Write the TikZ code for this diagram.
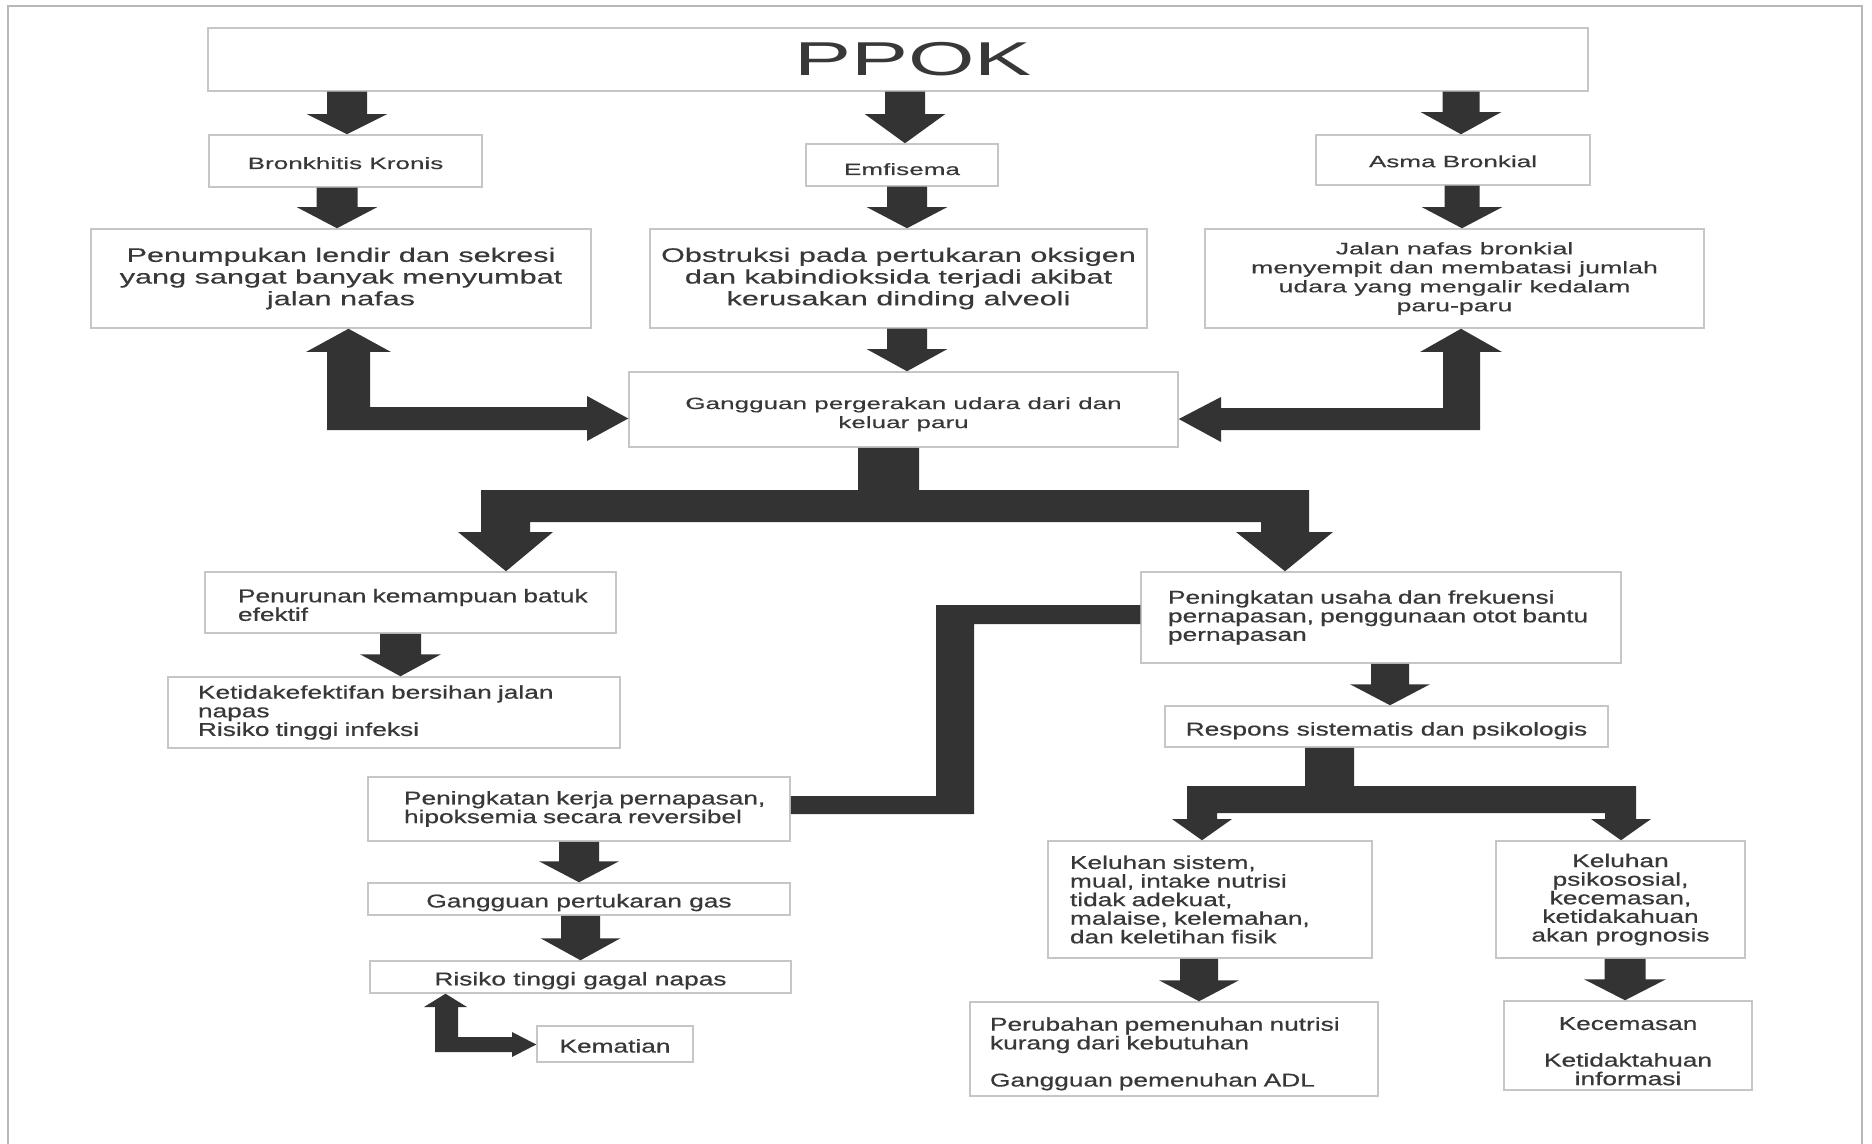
\documentclass[tikz,border=0pt]{standalone}
\usepackage{fontspec}
\setmainfont{Liberation Sans}
\newfontfamily\fA{Liberation Sans}[FakeStretch=1.8]
\newfontfamily\fB{Liberation Sans}[FakeStretch=1.6,FakeBold=0.3]
\newfontfamily\fC{Liberation Sans}[FakeStretch=1.57,FakeBold=0.3]
\newfontfamily\fD{Liberation Sans}[FakeStretch=1.42,FakeBold=0.6]
\usetikzlibrary{calc}
\definecolor{arrc}{HTML}{333333}
\definecolor{txtc}{HTML}{383838}
\definecolor{bordc}{HTML}{C6C6C6}
\definecolor{framec}{HTML}{B8B8B8}
% box with given corners (pixels, y downwards)
\newcommand\bx[7]{\node[box,#6,minimum width={(#4-#2)*0.5pt},minimum height={(#5-#3)*0.5pt}] (#1) at ({(#2+#4)/2},{(#3+#5)/2}) {#7};}
% left-aligned box, #6 = left inset
\newcommand\bxl[7]{\node[box,fd,align=left,text width={(#4-#2-2*#6)*0.5pt},minimum width={(#4-#2)*0.5pt},minimum height={(#5-#3)*0.5pt}] (#1) at ({(#2+#4)/2},{(#3+#5)/2}) {#7};}
% vertical block arrow: from, to, x, shaft half width, head half width, head length
\newcommand\varr[6]{%
  \coordinate (vx) at (#3,0);
  \path (#1.south -| vx) coordinate (va) (#2.north -| vx) coordinate (vb);
  \fill[arr] ($(va)+(-#4,0)$) -- ($(vb)+(-#4,-#6)$) -- ($(vb)+(-#5,-#6)$) -- (vb)
    -- ($(vb)+(#5,-#6)$) -- ($(vb)+(#4,-#6)$) -- ($(va)+(#4,0)$) -- cycle;}
\newcommand\up[1]{\rule{0pt}{#1pt}}
\begin{document}
\begin{tikzpicture}[x=0.5pt,y=-0.5pt,
  box/.style={draw=bordc,line width=0.75pt,fill=white,inner sep=0pt,text=txtc},
  arr/.style={fill=arrc,draw=none},
  fa/.style={font=\fA\fontsize{23.75}{26}\selectfont},
  fb/.style={font=\fB\fontsize{8.15}{9.5}\selectfont},
  fbj/.style={font=\fB\fontsize{8.35}{9.5}\selectfont},
  fc/.style={font=\fC\fontsize{9.75}{10.85}\selectfont},
  fd/.style={font=\fD\fontsize{9.25}{9.3}\selectfont},
  th/.style={text height=#1pt,text depth=0pt}]
\useasboundingbox (0,0) rectangle (1872,1144);
\fill[white] (0,0) rectangle (1872,1144);
\draw[framec,line width=0.7pt] (8,1144) -- (8,6) -- (1862,6) -- (1862,1144);

% boxes
\bx{ppok}{208}{28}{1588}{91}{fa}{\hspace*{15pt}PPOK}
\bx{bronk}{209}{135}{482}{187}{fb,th=8}{Bronkhitis Kronis}
\bx{emf}{806}{144}{998}{186}{fb,th=10}{Emfisema}
\bx{asma}{1316}{135}{1590}{185}{fb,th=7.2}{Asma Bronkial}
\bx{penum}{91}{229}{591}{328}{fc,align=center}{Penumpukan lendir dan sekresi\\yang sangat banyak menyumbat\\jalan nafas}
\bx{obs}{650}{229}{1147}{328}{fc,align=center}{Obstruksi pada pertukaran oksigen\\dan kabindioksida terjadi akibat\\kerusakan dinding alveoli}
\bx{jalan}{1205}{229}{1704}{328}{fbj,align=center}{Jalan nafas bronkial\\menyempit dan membatasi jumlah\\udara yang mengalir kedalam\\paru-paru}
\bx{gang}{629}{372}{1178}{447}{fb,align=center}{\up{10.75}Gangguan pergerakan udara dari dan\\keluar paru}
\bxl{penur}{205}{572}{616}{633}{33}{\up{9.15}\mbox{Penurunan kemampuan batuk}\\efektif}
\bxl{ketid}{168}{677}{620}{748}{30}{\mbox{Ketidakefektifan bersihan jalan}\\napas\\Risiko tinggi infeksi}
\bxl{penus}{1141}{572}{1621}{663}{27}{\mbox{Peningkatan usaha dan frekuensi}\\\mbox{pernapasan, penggunaan otot bantu}\\pernapasan}
\bxl{penker}{368}{777}{790}{841}{36}{\mbox{Peningkatan kerja pernapasan,}\\\mbox{hipoksemia secara reversibel}}
\bx{ganggas}{368}{883}{790}{915}{fd,th=8.4}{Gangguan pertukaran gas}
\bx{risiko}{370}{961}{791}{993}{fd,th=8.4}{Risiko tinggi gagal napas}
\bx{kem}{537}{1026}{693}{1062}{fd,th=8.5}{Kematian}
\bx{resp}{1165}{706}{1608}{747}{fd,th=9}{Respons sistematis dan psikologis}
\bxl{kelsis}{1048}{841}{1372}{958}{22}{Keluhan sistem,\\mual, intake nutrisi\\tidak adekuat,\\malaise, kelemahan,\\dan keletihan fisik}
\bx{kelpsi}{1496}{841}{1745}{958}{fd,align=center}{Keluhan\\psikososial,\\kecemasan,\\ketidakahuan\\akan prognosis}
\bxl{perub}{970}{1002}{1378}{1096}{20}{\up{11.5}\mbox{Perubahan pemenuhan nutrisi}\\kurang dari kebutuhan\\[9.3pt]Gangguan pemenuhan ADL}
\bx{kecem}{1504}{1001}{1752}{1090}{fd,align=center}{\up{12.1}Kecemasan\\[9pt]Ketidaktahuan\\informasi}

% straight block arrows
\varr{ppok}{bronk}{347}{20}{40}{20}
\varr{bronk}{penum}{337}{20.5}{40}{21}
\varr{ppok}{emf}{905}{20}{40}{29}
\varr{emf}{obs}{907}{20}{40}{21}
\varr{obs}{gang}{907}{20}{40}{22}
\varr{ppok}{asma}{1461}{18.5}{40}{22}
\varr{asma}{jalan}{1462}{17.5}{40}{21}
\varr{penur}{ketid}{400.5}{20.5}{40.5}{22}
\varr{penker}{ganggas}{579}{20}{40}{21}
\varr{ganggas}{risiko}{580.5}{19.5}{40}{22}
\varr{penus}{resp}{1390}{19}{40}{21}
\varr{kelsis}{perub}{1199}{19}{40}{21}
\varr{kelpsi}{kecem}{1625}{20.5}{41}{21}

% double arrow Penumpukan <-> Gangguan
\fill[arr] ($(penum.south)+(7.5,0)$) -- (391,352) -- (370,352) -- (370,407) -- (587,407) -- (587,396)
  -- ($(gang.west)+(0,9)$) -- (587,441) -- (587,430) -- (327,430) -- (327,352) -- (306,352) -- cycle;
% double arrow Jalan nafas <-> Gangguan
\fill[arr] ($(jalan.south)+(6.5,0)$) -- (1502,352) -- (1480,352) -- (1480,430) -- (1221,430) -- (1221,442)
  -- ($(gang.east)+(0,9.5)$) -- (1221,397) -- (1221,408) -- (1443,408) -- (1443,352) -- (1420,352) -- cycle;
% split from Gangguan
\fill[arr] ($(gang.south)+(-45.5,0)$) -- ($(gang.south)+(15.5,0)$) -- (919,490) -- (1309,490) -- (1309,532)
  -- (1333,532) -- ($(penus.north)+(-96,0)$) -- (1236,532) -- (1261,532) -- (1261,522) -- (530,522)
  -- (530,532) -- (553,532) -- ($(penur.north)+(95.5,0)$) -- (458,532) -- (481,532) -- (481,490)
  -- (858,490) -- cycle;
% connector Peningkatan usaha -- Peningkatan kerja
\fill[arr] ($(penus.west)+(0,-12.5)$) -- ($(penus.west)+(0,6.5)$) -- (974,624) -- (974,814)
  -- ($(penker.east)+(0,5)$) -- ($(penker.east)+(0,-13)$) -- (936,796) -- (936,605) -- cycle;
% split from Respons
\fill[arr] ($(resp.south)+(-81.5,0)$) -- ($(resp.south)+(-32.5,0)$) -- (1354,786) -- (1636,786) -- (1636,819)
  -- (1651,819) -- ($(kelpsi.north)+(0.5,0)$) -- (1591,819) -- (1605,819) -- (1605,813) -- (1217,813)
  -- (1217,819) -- (1232,819) -- ($(kelsis.north)+(-8,0)$) -- (1172,819) -- (1187,819) -- (1187,786)
  -- (1305,786) -- cycle;
% small double arrow Risiko <-> Kematian
\fill[arr] ($(risiko.south)+(-135,0)$) -- (467,1007) -- (458,1007) -- (458,1037) -- (512,1037) -- (512,1032)
  -- ($(kem.west)+(0,0.5)$) -- (512,1057) -- (512,1052) -- (435,1052) -- (435,1007) -- (424,1007) -- cycle;
\end{tikzpicture}
\end{document}
